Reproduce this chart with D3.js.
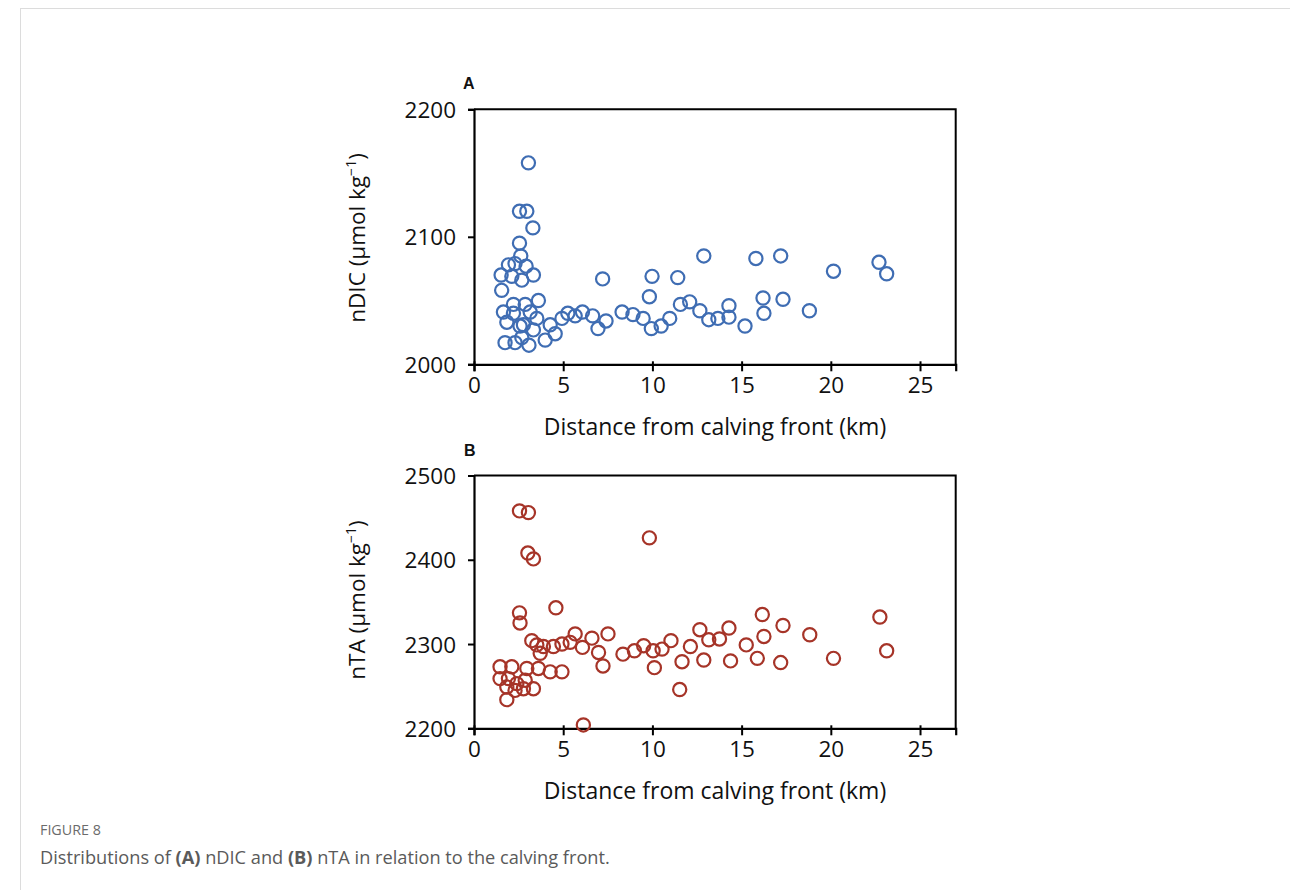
<!DOCTYPE html>
<html>
<head>
<meta charset="utf-8">
<script src="https://cdn.jsdelivr.net/npm/d3@7"></script>
<style>
  body { margin: 0; background: #fff; }
  svg { display: block; }
</style>
</head>
<body>
<svg id="fig" width="1290" height="890"></svg>
<script>
'use strict';

// panel A: distance from calving front (km) vs nDIC
var distA = [3.05, 2.55, 2.96, 3.30, 2.55, 2.62,
  1.93, 2.30, 2.92, 1.52, 2.12, 2.68, 3.33,
  1.55, 3.61, 2.21, 2.87, 1.65, 2.21, 3.15,
  1.84, 3.52, 4.27, 2.58, 3.33, 4.93, 4.55,
  1.74, 2.68, 2.30, 3.99, 3.08, 2.77,
  5.26, 5.67, 6.08, 6.65, 6.95, 7.40, 7.21,
  8.30, 8.91, 9.48, 9.94, 9.83, 9.98,
  10.49, 10.97, 11.42, 11.57, 12.09, 12.66, 12.88,
  13.16, 13.67, 14.29, 14.29, 15.19, 15.80, 16.20, 16.25,
  17.19, 17.32, 18.80, 20.15, 22.70, 23.13];
var nDIC = [2158, 2120, 2120, 2107, 2095, 2085,
  2078, 2079, 2077, 2070, 2069, 2066, 2070,
  2058, 2050, 2047, 2047, 2041, 2040, 2041,
  2033, 2036, 2031, 2030, 2027, 2036, 2024,
  2017, 2021, 2017, 2019, 2015, 2031,
  2040, 2038, 2041, 2038, 2028, 2034, 2067,
  2041, 2039, 2036, 2028, 2053, 2069,
  2030, 2036, 2068, 2047, 2049, 2042, 2085,
  2035, 2036, 2046, 2037, 2030, 2083, 2052, 2040,
  2085, 2051, 2042, 2073, 2080, 2071];

// panel B: distance vs nTA
var distB = [2.55, 3.05, 3.02, 3.33, 9.83, 2.55, 2.58, 4.59,
  3.24, 3.52, 3.89, 4.45, 4.93, 5.39, 3.71,
  5.67, 6.08, 6.61, 6.98, 7.23, 7.51, 8.35, 8.99, 9.51, 10.04, 10.11, 10.54,
  11.04, 11.53, 11.66, 12.13, 12.66, 12.88, 13.16, 13.76, 14.29, 14.38,
  15.26, 15.88, 16.16, 16.25, 17.19, 17.32, 18.82, 20.15, 22.75, 23.13,
  1.46, 2.12, 2.96, 3.61, 4.27, 4.93,
  1.46, 1.93, 2.40, 2.87, 1.84, 2.30, 2.77, 3.33, 1.84, 6.13];
var nTA = [2458, 2456, 2408, 2401, 2426, 2337, 2325, 2343,
  2304, 2299, 2297, 2297, 2300, 2302, 2289,
  2312, 2296, 2307, 2290, 2274, 2312, 2288, 2292, 2298, 2292, 2272, 2294,
  2304, 2246, 2279, 2297, 2317, 2281, 2305, 2306, 2319, 2280,
  2299, 2283, 2335, 2309, 2278, 2322, 2311, 2283, 2332, 2292,
  2273, 2273, 2271, 2271, 2267, 2267,
  2259, 2259, 2253, 2257, 2249, 2245, 2247, 2247, 2234, 2204];

var xTicks = [0, 5, 10, 15, 20, 25];
var dicTicks = [2000, 2100, 2200];
var taTicks = [2200, 2300, 2400, 2500];

var font = '"Open Sans", sans-serif';
var svg = d3.select('#fig');

// page card border
svg.append('line').attr('x1', 20).attr('x2', 1290).attr('y1', 8.5).attr('y2', 8.5)
  .attr('stroke', '#dcdcdc');
svg.append('line').attr('x1', 20.5).attr('x2', 20.5).attr('y1', 8).attr('y2', 890)
  .attr('stroke', '#dcdcdc');

var x = d3.scaleLinear().domain([0, 27]).range([474, 955.7]);

function panel(opts) {
  var y = d3.scaleLinear().domain(opts.domain).range([opts.bottom, opts.top]);
  var g = svg.append('g');

  // box on top and right
  g.append('path')
    .attr('d', 'M' + x.range()[0] + ',' + opts.top + 'H' + x.range()[1] + 'V' + opts.bottom)
    .attr('fill', 'none').attr('stroke', '#000').attr('stroke-width', 2);

  var xAxis = g.append('g')
    .attr('transform', 'translate(0,' + opts.bottom + ')')
    .call(d3.axisBottom(x).tickValues(xTicks).tickSize(7).tickPadding(6));
  var yAxis = g.append('g')
    .attr('transform', 'translate(' + x.range()[0] + ',0)')
    .call(d3.axisLeft(y).tickValues(opts.ticks).tickSize(6).tickPadding(12)
      .tickFormat(d3.format('d')));

  [xAxis, yAxis].forEach(function(a) {
    a.select('.domain').attr('stroke-width', 2.2).attr('stroke', '#000');
    a.selectAll('.tick line').attr('stroke-width', 2).attr('stroke', '#000');
    a.selectAll('.tick text').attr('font-family', font).attr('font-size', 22.5)
      .attr('fill', '#111');
  });
  xAxis.selectAll('.tick line').attr('y1', -3);
  yAxis.selectAll('.tick text').attr('dy', '0.36em');

  g.append('g').selectAll('circle')
    .data(opts.xs.map(function(d, i) { return [d, opts.ys[i]]; }))
    .enter().append('circle')
    .attr('cx', function(d) { return x(d[0]); })
    .attr('cy', function(d) { return y(d[1]); })
    .attr('r', 6.6)
    .attr('fill', 'none')
    .attr('stroke', opts.color)
    .attr('stroke-width', 2.2);

  g.append('text')
    .attr('x', 715)
    .attr('y', opts.bottom + 71)
    .attr('text-anchor', 'middle')
    .attr('font-family', font).attr('font-size', 23).attr('fill', '#111')
    .text('Distance from calving front (km)');

  var lab = g.append('text')
    .attr('transform', 'translate(365,' + opts.labelY + ') rotate(-90)')
    .attr('text-anchor', 'middle')
    .attr('font-family', font).attr('font-size', 22.5).attr('fill', '#111');
  lab.append('tspan').text(opts.name + ' (µmol kg');
  lab.append('tspan').attr('font-size', 14).attr('dy', -9).text('−1');
  lab.append('tspan').attr('dy', 9).text(')');

  g.append('text')
    .attr('x', opts.letterX).attr('y', opts.top - 20)
    .attr('font-family', 'Liberation Sans, Arial, sans-serif')
    .attr('font-weight', 'bold').attr('font-size', 16).attr('fill', '#111')
    .text(opts.letter);
}

panel({ letter: 'A', letterX: 463, name: 'nDIC', xs: distA, ys: nDIC, labelY: 238,
  domain: [2000, 2200], ticks: dicTicks, top: 109.3, bottom: 364.3, color: '#3f6db3' });
panel({ letter: 'B', letterX: 464, name: 'nTA', xs: distB, ys: nTA, labelY: 600,
  domain: [2200, 2500], ticks: taTicks, top: 475.5, bottom: 728.3, color: '#a63428' });

// caption
svg.append('text').attr('x', 40).attr('y', 835)
  .attr('font-family', font).attr('font-size', 14.3).attr('fill', '#6b6b6b')
  .text('FIGURE 8');
var cap = svg.append('text').attr('x', 40).attr('y', 864)
  .attr('font-family', font).attr('font-size', 18.2).attr('fill', '#5a5a5a');
cap.append('tspan').text('Distributions of ');
cap.append('tspan').attr('font-weight', 'bold').text('(A)');
cap.append('tspan').text(' nDIC and ');
cap.append('tspan').attr('font-weight', 'bold').text('(B)');
cap.append('tspan').text(' nTA in relation to the calving front.');
</script>
</body>
</html>
